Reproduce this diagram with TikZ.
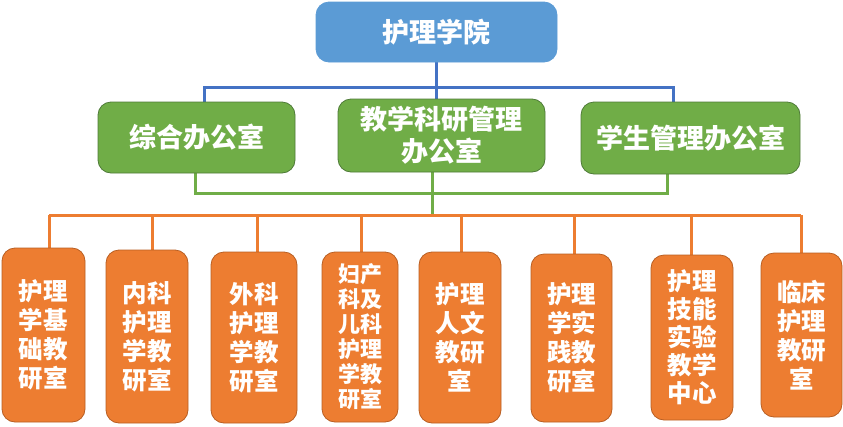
\documentclass[tikz,border=0pt]{standalone}
\usepackage{fontspec}
\newfontfamily\cjk{Noto Sans CJK SC}
\usetikzlibrary{backgrounds}
\definecolor{topblue}{HTML}{5B9BD5}
\definecolor{topline}{HTML}{5B9BD5}
\definecolor{midgreen}{HTML}{70AD47}
\definecolor{midline}{HTML}{4E7A38}
\definecolor{boxorange}{HTML}{ED7D31}
\definecolor{orangeline}{HTML}{B85E22}
\definecolor{conblue}{HTML}{4472C4}
\definecolor{congreen}{HTML}{70AD47}
\definecolor{conorange}{HTML}{ED7D31}
\tikzset{
  box/.style={rectangle, rounded corners=13pt, inner sep=0pt, align=center, text=white, line width=0.8pt},
  topbox/.style={box, fill=topblue, draw=topline, font=\cjk\bfseries\fontsize{27}{32}\selectfont},
  midbox/.style={box, fill=midgreen, draw=midline, font=\cjk\bfseries\fontsize{27}{32}\selectfont},
  botbox/.style={box, fill=boxorange, draw=orangeline, font=\cjk\bfseries\fontsize{24.5}{29}\selectfont},
  con/.style={line width=3pt}
}
\begin{document}
\begin{tikzpicture}[x=1pt,y=-1pt]
\useasboundingbox (0,0) rectangle (843,426);
% top
\node[topbox, minimum width=241pt, minimum height=60pt] (top) at (436.5,32) {护理学院};
% middle
\node[midbox, minimum width=197pt, minimum height=71pt] (m1) at (196.5,137.5) {综合办公室};
\node[midbox, minimum width=207pt, minimum height=73pt] (m2) at (441.5,135.5) {教学科研管理\\办公室};
\node[midbox, minimum width=219pt, minimum height=72pt] (m3) at (690.5,138) {学生管理办公室};
% bottom
\node[botbox, minimum width=83pt, minimum height=174pt] (b1) at (43.5,335) {护理\\学基\\础教\\研室};
\node[botbox, minimum width=82pt, minimum height=173pt] (b2) at (147,336.5) {内科\\护理\\学教\\研室};
\node[botbox, minimum width=86pt, minimum height=171pt] (b3) at (254,337.5) {外科\\护理\\学教\\研室};
\node[botbox, minimum width=76pt, minimum height=170pt, font=\cjk\bfseries\fontsize{22}{25}\selectfont] (b4) at (360,337) {妇产\\科及\\儿科\\护理\\学教\\研室};
\node[botbox, minimum width=82pt, minimum height=171pt] (b5) at (460,337.5) {护理\\人文\\教研\\室};
\node[botbox, minimum width=81pt, minimum height=168pt] (b6) at (571.5,338) {护理\\学实\\践教\\研室};
\node[botbox, minimum width=82pt, minimum height=165pt, font=\cjk\bfseries\fontsize{24.5}{28}\selectfont] (b7) at (692,337.5) {护理\\技能\\实验\\教学\\中心};
\node[botbox, minimum width=81pt, minimum height=164pt] (b8) at (801.5,335) {临床\\护理\\教研\\室};
% connector coordinates
\coordinate (bl) at (204,87);
\coordinate (br) at (673,87);
\coordinate (gl) at (195,193);
\coordinate (gr) at (667,193);
\coordinate (gm) at (432,215);
\coordinate (o1) at (49,215);
\coordinate (o2) at (152,215);
\coordinate (o3) at (257,215);
\coordinate (o4) at (361,215);
\coordinate (o5) at (461,215);
\coordinate (o6) at (574,215);
\coordinate (o7) at (691,215);
\coordinate (o8) at (801,215);
\begin{scope}[on background layer]
% blue
\draw[con, conblue] (top.south) -- (top.south |- m2.north);
\draw[con, conblue] (bl |- m1.north) -- (bl) -- (br) -- (br |- m3.north);
% green
\draw[con, congreen] (gl |- m1.south) -- (gl) -- (gr) -- (gr |- m3.south);
\draw[con, congreen] (gm |- m2.south) -- (gm);
% orange
\draw[con, conorange] (o1) -- (o8);
\foreach \i in {1,...,8} {
  \draw[con, conorange] (o\i) -- (o\i |- b\i.north);
}
\end{scope}
\end{tikzpicture}
\end{document}
